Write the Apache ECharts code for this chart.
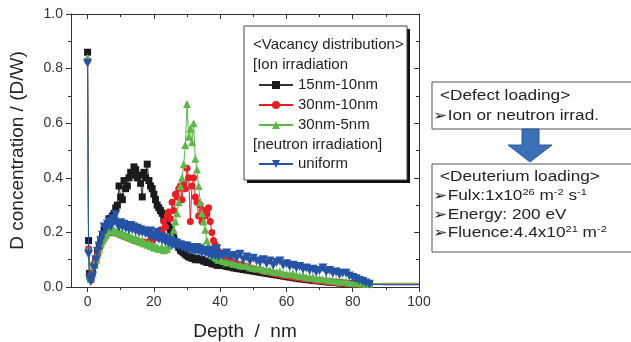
<!DOCTYPE html>
<html><head><meta charset="utf-8">
<script src="https://cdn.jsdelivr.net/npm/echarts@6/dist/echarts.min.js"></script>
<style>html,body{margin:0;padding:0;background:#fff}#c{width:631px;height:342px}</style>
</head><body><div id="c"></div>
<script>
// depth (nm)
const depth = [0,0.3,0.6,
1,1.5,2,2.5,3,3.5,4,4.5,5,5.5,6,6.5,7,7.5,8,8.5,9,9.5,10,10.5,11,11.5,12,12.5,13,13.5,14,14.5,15,15.5,16,16.5,17,17.5,18,18.5,19,19.5,20,
20.5,21,21.5,22,22.5,23,23.5,24,24.5,25,25.5,26,26.5,27,27.5,28,28.5,29,29.5,30,30.5,31,31.5,32,32.5,33,33.5,34,34.5,35,35.5,36,36.5,37,37.5,38,38.5,39,39.5,40,
41,42,43,44,45,46,47,48,49,50,51,52,53,54,55,56,57,58,59,60,61,62,63,64,65,66,67,68,69,70,71,72,73,74,75,76,77,78,79,80,81,82,83,84,85,90,95,100];

const ion15_10 = [0.86,0.17,0.05,
0.03,0.05,0.08,0.10,0.13,0.15,0.17,0.19,0.21,0.22,0.23,0.25,0.25,0.26,0.27,0.29,0.30,0.37,0.33,0.32,0.39,0.36,0.37,0.40,0.42,0.41,0.44,0.43,0.40,0.41,0.38,0.33,0.42,0.40,0.45,0.39,0.37,0.36,0.34,
0.32,0.30,0.29,0.28,0.27,0.25,0.245,0.23,0.22,0.21,0.19,0.18,0.165,0.155,0.145,0.135,0.13,0.125,0.12,0.115,0.11,0.11,0.105,0.105,0.10,0.105,0.10,0.10,0.10,0.095,0.095,0.09,0.09,0.09,0.085,0.085,0.085,0.08,0.08,0.08,
0.078,0.075,0.073,0.07,0.068,0.066,0.064,0.062,0.06,0.058,0.056,0.054,0.052,0.05,0.048,0.046,0.044,0.042,0.04,0.038,0.036,0.034,0.032,0.03,0.029,0.027,0.026,0.024,0.023,0.022,0.02,0.019,0.018,0.017,0.016,0.015,0.014,0.013,0.012,0.012,0.011,0.011,0.01,0.01,0.01,0.01,0.01,0.01];

const ion30_10 = [0.83,0.14,0.04,
0.025,0.05,0.08,0.10,0.12,0.14,0.155,0.17,0.18,0.19,0.195,0.20,0.20,0.205,0.20,0.20,0.195,0.195,0.19,0.19,0.185,0.185,0.18,0.18,0.175,0.175,0.17,0.17,0.17,0.165,0.165,0.16,0.165,0.16,0.16,0.165,0.17,0.17,0.18,
0.19,0.20,0.18,0.21,0.20,0.24,0.22,0.26,0.275,0.25,0.31,0.28,0.34,0.33,0.36,0.37,0.32,0.38,0.36,0.435,0.40,0.24,0.37,0.40,0.33,0.31,0.26,0.30,0.24,0.28,0.26,0.27,0.29,0.24,0.20,0.17,0.155,0.14,0.13,0.12,
0.11,0.10,0.095,0.09,0.085,0.082,0.078,0.075,0.07,0.067,0.064,0.062,0.058,0.056,0.053,0.05,0.048,0.046,0.043,0.041,0.039,0.037,0.035,0.033,0.031,0.029,0.028,0.026,0.024,0.023,0.021,0.02,0.019,0.017,0.016,0.015,0.014,0.013,0.012,0.011,0.011,0.01,0.01,0.01,0.01,0.01,0.01,0.01];

const ion30_5 = [0.84,0.14,0.04,
0.03,0.05,0.08,0.10,0.12,0.14,0.16,0.17,0.18,0.19,0.20,0.205,0.21,0.205,0.21,0.20,0.205,0.20,0.195,0.20,0.19,0.19,0.185,0.19,0.18,0.18,0.175,0.18,0.17,0.17,0.165,0.17,0.16,0.16,0.155,0.16,0.15,0.155,0.145,
0.15,0.145,0.14,0.14,0.145,0.135,0.14,0.14,0.15,0.17,0.19,0.21,0.24,0.27,0.31,0.37,0.40,0.45,0.52,0.67,0.55,0.58,0.53,0.60,0.47,0.43,0.37,0.31,0.27,0.24,0.21,0.17,0.15,0.13,0.12,0.115,0.11,0.105,0.10,0.10,
0.095,0.09,0.092,0.085,0.083,0.08,0.078,0.08,0.072,0.07,0.068,0.07,0.063,0.06,0.062,0.057,0.055,0.058,0.05,0.048,0.047,0.05,0.043,0.04,0.042,0.036,0.035,0.037,0.031,0.03,0.028,0.03,0.025,0.023,0.024,0.02,0.019,0.02,0.016,0.015,0.014,0.015,0.013,0.012,0.012,0.014,0.014,0.014];

const uniform = [0.82,0.12,0.03,
0.02,0.04,0.07,0.10,0.13,0.15,0.17,0.19,0.22,0.21,0.23,0.24,0.22,0.25,0.24,0.265,0.23,0.22,0.235,0.22,0.23,0.215,0.225,0.21,0.225,0.21,0.22,0.205,0.215,0.20,0.21,0.20,0.205,0.195,0.20,0.19,0.205,0.185,0.19,
0.18,0.20,0.175,0.185,0.17,0.18,0.165,0.175,0.16,0.17,0.155,0.165,0.15,0.16,0.15,0.155,0.145,0.15,0.14,0.15,0.135,0.145,0.135,0.14,0.13,0.145,0.13,0.14,0.125,0.135,0.125,0.13,0.12,0.135,0.115,0.125,0.115,0.14,0.11,0.12,
0.115,0.125,0.11,0.115,0.105,0.12,0.10,0.11,0.095,0.105,0.095,0.09,0.10,0.085,0.095,0.08,0.09,0.095,0.08,0.085,0.075,0.08,0.07,0.075,0.065,0.07,0.06,0.065,0.055,0.06,0.07,0.055,0.06,0.05,0.055,0.045,0.05,0.05,0.04,0.035,0.03,0.025,0.02,0.015,0.01,0.008,0.008,0.008];

const xTickMajor = [0,20,40,60,80,100];
const xTickMinor = [10,30,50,70,90];
const seriesNames = ['15nm-10nm','30nm-10nm','30nm-5nm','uniform'];

const FONT = '"Liberation Sans", Arial, sans-serif';
const AX = '#333';

function build(vals){
  return depth.map((d,i)=> d > 85 ? {value:[d, vals[i]], symbol:'none'} : [d, vals[i]]);
}

const chart = echarts.init(document.getElementById('c'), null, {renderer:'canvas'});

function xAx(opts){
  return Object.assign({
    type:'value', min:-5, max:100, gridIndex:0,
    splitLine:{show:false},
    axisLine:{show:true, onZero:false, lineStyle:{color:AX, width:1}},
    axisLabel:{show:false},
    axisTick:{show:false}
  }, opts);
}

function boxText(x, y, text, rich){
  const st = {text:text, font:'14px '+FONT, fill:'#222', verticalAlign:'middle'};
  if (rich) st.rich = rich;
  return {type:'text', z:3, x:x, y:y, scaleX:1.23, style:st};
}
const supRich = {s:{fontSize:9, fontFamily:FONT, fill:'#222', padding:[0,0,7,0]}};

const option = {
  animation:false,
  textStyle:{fontFamily:FONT},
  grid:{left:71, top:14, right:212, bottom:55, containLabel:false, outerBoundsMode:'none'},
  xAxis:[
    xAx({position:'bottom',
      name:'Depth  /  nm', nameLocation:'middle', nameGap:35,
      nameTextStyle:{fontSize:19, color:'#222', fontFamily:FONT},
      axisTick:{show:true, inside:false, length:5, customValues:xTickMajor, lineStyle:{color:AX}},
      axisLabel:{show:true, customValues:xTickMajor, fontSize:14, color:'#333', margin:8, fontFamily:FONT}}),
    xAx({position:'bottom', axisLine:{show:false, onZero:false},
      axisTick:{show:true, inside:false, length:3, customValues:xTickMinor, lineStyle:{color:AX}}}),
    xAx({position:'top',
      axisTick:{show:true, inside:true, length:5, customValues:xTickMajor, lineStyle:{color:AX}}}),
    xAx({position:'top', axisLine:{show:false, onZero:false},
      axisTick:{show:true, inside:true, length:3, customValues:xTickMinor, lineStyle:{color:AX}}})
  ],
  yAxis:[
    {type:'value', min:0, max:1, interval:0.2, position:'left',
      name:'D concentration / (D/W)', nameLocation:'middle', nameGap:44, nameRotate:90,
      nameTextStyle:{fontSize:19, color:'#222', fontFamily:FONT},
      splitLine:{show:false},
      axisLine:{show:true, onZero:false, lineStyle:{color:AX}},
      axisTick:{show:true, inside:false, length:5, lineStyle:{color:AX}},
      minorTick:{show:true, splitNumber:2, length:3, lineStyle:{color:AX}},
      axisLabel:{fontSize:14, color:'#333', margin:8, fontFamily:FONT, formatter:v=>v.toFixed(1)}},
    {type:'value', min:0, max:1, interval:0.2, position:'right',
      splitLine:{show:false},
      axisLine:{show:true, onZero:false, lineStyle:{color:AX}},
      axisTick:{show:true, inside:true, length:5, lineStyle:{color:AX}},
      minorTick:{show:true, splitNumber:2, length:3, lineStyle:{color:AX}},
      axisLabel:{show:false}}
  ],
  legend:[
    {data:seriesNames.slice(0,3), orient:'vertical', left:253, top:70, z:30,
      itemWidth:34, itemHeight:10, itemGap:0,
      textStyle:{fontSize:15, color:'#222', lineHeight:20, fontFamily:FONT}, selectedMode:false},
    {data:[seriesNames[3]], orient:'vertical', left:253, top:149, z:30,
      itemWidth:34, itemHeight:10, itemGap:0,
      textStyle:{fontSize:15, color:'#222', lineHeight:20, fontFamily:FONT}, selectedMode:false}
  ],
  series:[
    {name:seriesNames[0], type:'line', data:build(ion15_10), symbol:'rect', symbolSize:7,
      itemStyle:{color:'#1b1b1b'}, lineStyle:{color:'#333', width:1}, z:2},
    {name:seriesNames[1], type:'line', data:build(ion30_10), symbol:'circle', symbolSize:7,
      itemStyle:{color:'#ec1c24'}, lineStyle:{color:'#ec1c24', width:1}, z:3},
    {name:seriesNames[2], type:'line', data:build(ion30_5), symbol:'triangle', symbolSize:8,
      itemStyle:{color:'#5cb848'}, lineStyle:{color:'#5cb848', width:1}, z:4},
    {name:seriesNames[3], type:'line', data:build(uniform), symbol:'triangle', symbolRotate:180, symbolSize:9,
      itemStyle:{color:'#2553a6'}, lineStyle:{color:'#2553a6', width:1}, z:5}
  ],
  graphic:[
    {type:'rect', z:1, shape:{x:247, y:29, width:163, height:154}, style:{fill:'#111'}},
    {type:'rect', z:2, shape:{x:244, y:26, width:163, height:154}, style:{fill:'#fff', stroke:'#444', lineWidth:1}},
    {type:'text', z:3, x:253, y:45, style:{text:'<Vacancy distribution>', font:'15px '+FONT, fill:'#222', verticalAlign:'middle'}},
    {type:'text', z:3, x:253, y:65, style:{text:'[Ion irradiation', font:'15px '+FONT, fill:'#222', verticalAlign:'middle'}},
    {type:'text', z:3, x:253, y:145, style:{text:'[neutron irradiation]', font:'15px '+FONT, fill:'#222', verticalAlign:'middle'}},
    {type:'rect', z:2, shape:{x:432, y:82, width:210, height:47}, style:{fill:'#fff', stroke:'#555', lineWidth:1}},
    boxText(440, 96.5, '<Defect loading>'),
    boxText(433, 116, '➢Ion or neutron irrad.'),
    {type:'polygon', z:2, shape:{points:[[522,129],[539,129],[539,145],[552,145],[530,162],[508,145],[522,145]]},
      style:{fill:'#3b6fb6', stroke:'#2c5a98', lineWidth:1}},
    {type:'rect', z:2, shape:{x:432, y:164, width:210, height:88}, style:{fill:'#fff', stroke:'#555', lineWidth:1}},
    boxText(440, 177.5, '<Deuterium loading>'),
    boxText(433, 196.5, '➢Fulx:1x10{s|26} m{s|-2} s{s|-1}', supRich),
    boxText(433, 215, '➢Energy: 200 eV'),
    boxText(433, 233.5, '➢Fluence:4.4x10{s|21} m{s|-2}', supRich)
  ]
};
chart.setOption(option);
</script>
</body></html>
